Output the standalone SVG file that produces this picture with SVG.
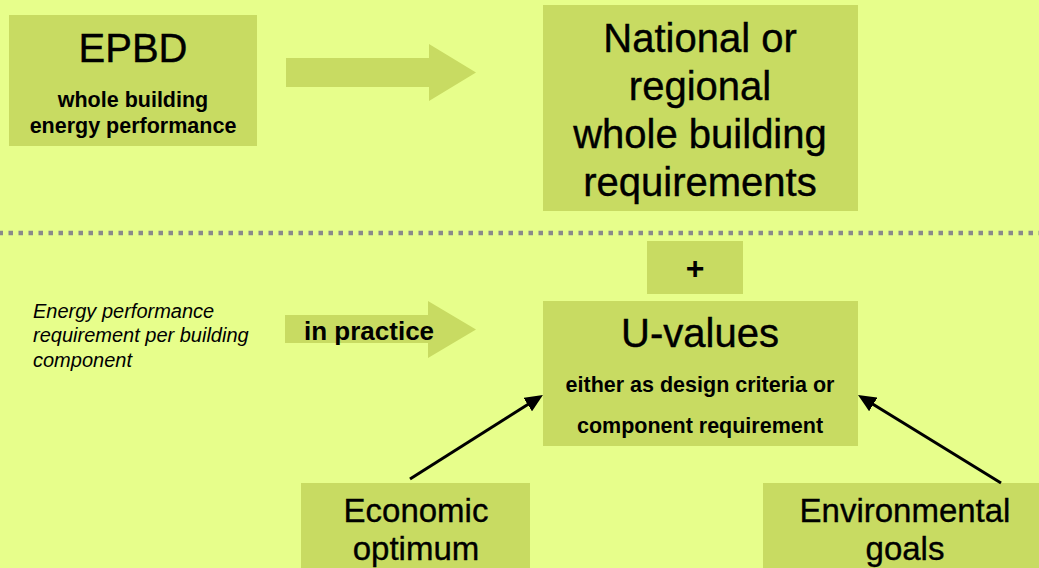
<svg xmlns="http://www.w3.org/2000/svg" width="1039" height="568" viewBox="0 0 1039 568">
  <defs>
    <style>
      .bg { fill: #E7FE8B; }
      .box { fill: #C8DB62; }
      .t { font-family: "Liberation Sans", Arial, sans-serif; fill: #000; }
      .c { text-anchor: middle; }
      .big { font-size: 40px; stroke: #000; stroke-width: 0.4px; }
      .mid { font-size: 33px; stroke: #000; stroke-width: 0.35px; }
      .sub { font-size: 21.5px; font-weight: bold; }
      .note { font-size: 20px; font-style: italic; }
      .link { stroke: #000; stroke-width: 3; fill: none; marker-end: url(#head); }
    </style>
    <marker id="head" markerUnits="userSpaceOnUse" markerWidth="20" markerHeight="16" refX="8" refY="8" orient="auto">
      <path d="M0,0 L18,8 L0,16 z" fill="#000"/>
    </marker>
  </defs>

  <rect class="bg" x="0" y="0" width="1039" height="568"/>

  <!-- separator between directive level and component level -->
  <line x1="0" y1="233" x2="1039" y2="233" stroke="#8A8A8A" stroke-width="4.5" stroke-dasharray="4.5 5.5" stroke-dashoffset="1.5"/>

  <g id="epbd">
    <rect class="box" x="9" y="15" width="248" height="131"/>
    <text class="t c big" x="133" y="62">EPBD</text>
    <text class="t c sub" x="133" y="107">whole building</text>
    <text class="t c sub" x="133" y="133">energy performance</text>
  </g>

  <g id="national">
    <rect class="box" x="543" y="5" width="315" height="206"/>
    <text class="t c big" x="700" y="52">National or</text>
    <text class="t c big" x="700" y="100">regional</text>
    <text class="t c big" x="700" y="148">whole building</text>
    <text class="t c big" x="700" y="196">requirements</text>
  </g>

  <g id="plus">
    <rect class="box" x="647" y="241" width="96" height="53"/>
    <text class="t c" x="695" y="279" font-size="32" font-weight="bold">+</text>
  </g>

  <g id="uvalues">
    <rect class="box" x="543" y="301" width="315" height="145"/>
    <text class="t c big" x="700" y="347">U-values</text>
    <text class="t c sub" x="700" y="392">either as design criteria or</text>
    <text class="t c sub" x="700" y="433">component requirement</text>
  </g>

  <g id="component-note">
    <text class="t note" x="33" y="318">Energy performance</text>
    <text class="t note" x="33" y="342">requirement per building</text>
    <text class="t note" x="33" y="367">component</text>
  </g>

  <g id="economic">
    <rect class="box" x="301" y="483" width="229" height="90"/>
    <text class="t c mid" x="416" y="522">Economic</text>
    <text class="t c mid" x="416" y="560">optimum</text>
  </g>

  <g id="environmental">
    <rect class="box" x="763" y="483" width="280" height="90"/>
    <text class="t c mid" x="905" y="522">Environmental</text>
    <text class="t c mid" x="905" y="560">goals</text>
  </g>

  <g id="connectors">
    <!-- block arrows -->
    <polygon class="box" points="286,58 429,58 429,44 476,72.5 429,101 429,87 286,87"/>
    <polygon class="box" points="285,315 428,315 428,301 476,329.5 428,358 428,343 285,343"/>
    <text class="t" x="304" y="340" font-size="26" font-weight="bold">in practice</text>
    <!-- influence arrows -->
    <line class="link" x1="410" y1="479" x2="534.5" y2="400.3"/>
    <line class="link" x1="1001" y1="483" x2="866.5" y2="400.2"/>
  </g>
</svg>
